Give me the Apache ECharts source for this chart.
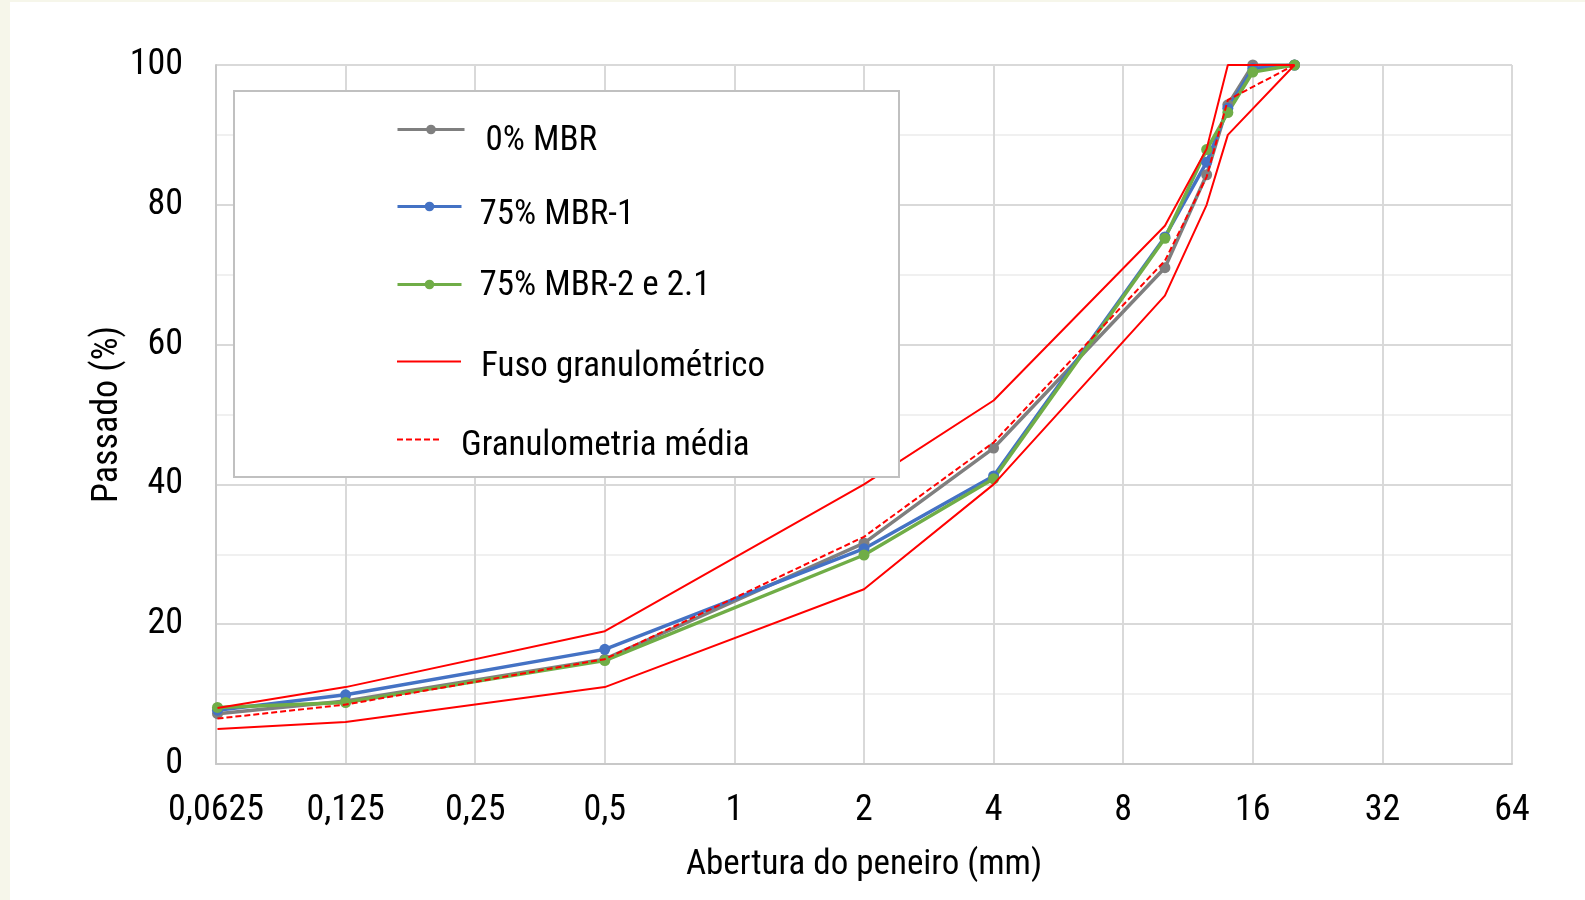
<!DOCTYPE html>
<html>
<head>
<meta charset="utf-8">
<title>Curvas granulométricas</title>
<script src="https://cdn.jsdelivr.net/npm/echarts@6/dist/echarts.min.js"></script>
<style>
  html, body { margin: 0; padding: 0; background: #f6f6ea; }
  #sheet { position: absolute; left: 10px; top: 2px; width: 1575px; height: 898px; background: #ffffff; }
  #chart { position: absolute; left: 0; top: 0; width: 1585px; height: 900px; }
</style>
</head>
<body>
<div id="sheet"></div>
<div id="chart"></div>
<script>
// Sieve openings (mm)
const sieves = [0.063, 0.125, 0.5, 2, 4, 10, 12.5, 14, 16, 20];

// Percentage passing for each mix
const mbr0   = [7.2, 9.0, 15.0, 31.6, 45.2, 71.0, 84.3, 94.3, 100, 100];
const mbr1   = [7.7, 9.9, 16.4, 30.8, 41.2, 75.4, 86.1, 93.8, 99.5, 100];
const mbr2   = [8.1, 8.8, 14.8, 29.9, 40.8, 75.2, 87.9, 93.2, 99.0, 100];

// Grading envelope limits and their mean (no limit defined at 16 mm for the lower bound)
const fusoMax = [8, 11, 19, 40, 52, 77, 88, 100, 100, 100];
const fusoMin = [5, 6, 11, 25, 40, 67, 80, 90, null, 100];
const media   = [6.5, 8.5, 15, 32.5, 46, 72, 84, 95, null, 100];

// Axis tick values
const xTicks = [0.0625, 0.125, 0.25, 0.5, 1, 2, 4, 8, 16, 32, 64];
const yTicks = [0, 20, 40, 60, 80, 100];

const FONT = "'Liberation Sans Narrow', 'Arial Narrow', 'Roboto Condensed', 'DejaVu Sans Condensed', sans-serif";

const pairs = (vals) => sieves.map((s, i) => [s, vals[i]]);

const chart = echarts.init(document.getElementById('chart'), null, { renderer: 'canvas' });

// One legend block per entry; pad = [top, bottom, left] padding of the label
function legendAt(name, top, width, pad, hideMarker, lineWidth) {
  const leg = {
    data: [name],
    left: 396,
    top: top,
    orient: 'vertical',
    itemWidth: width,
    itemHeight: 12,
    z: 20,
    padding: 0,
    selectedMode: false,
    lineStyle: { width: lineWidth },
    formatter: (n) => '{t|' + n + '}',
    textStyle: {
      fontFamily: FONT,
      fontSize: 35,
      color: '#000000',
      rich: {
        t: {
          fontFamily: FONT,
          fontSize: 35,
          color: '#000000',
          padding: [pad[0], 0, pad[1], pad[2]]
        }
      }
    }
  };
  if (hideMarker) leg.itemStyle = { opacity: 0 };
  return leg;
}

const dataLine = (name, color, vals) => ({
  name: name,
  type: 'line',
  data: pairs(vals),
  symbol: 'circle',
  symbolSize: 11,
  lineStyle: { color: color, width: 3.5 },
  itemStyle: { color: color },
  z: 3
});

const envelopeLine = (name, vals, dashed) => ({
  name: name,
  type: 'line',
  data: pairs(vals),
  showSymbol: false,
  symbol: 'none',
  connectNulls: true,
  lineStyle: { color: '#ff0000', width: 2, type: dashed ? [6, 3] : 'solid' },
  itemStyle: { color: '#ff0000' },
  z: 4
});

chart.setOption({
  animation: false,
  backgroundColor: 'transparent',
  grid: { left: 216, right: 73, top: 65, bottom: 136, containLabel: false },
  xAxis: {
    type: 'log',
    logBase: 2,
    min: xTicks[0],
    max: xTicks[xTicks.length - 1],
    interval: 1,
    splitNumber: 10,
    name: 'Abertura do peneiro (mm)',
    nameLocation: 'middle',
    nameGap: 84,
    nameTextStyle: { fontFamily: FONT, fontSize: 35, color: '#000000' },
    axisLine: { show: true, lineStyle: { color: '#c8c8c8', width: 2 } },
    axisTick: { show: false },
    axisLabel: {
      margin: 29,
      fontFamily: FONT,
      fontSize: 36,
      color: '#000000',
      formatter: (v) => String(Number(v.toPrecision(6))).replace('.', ',')
    },
    splitLine: { show: true, lineStyle: { color: '#d9d9d9', width: 2 } }
  },
  yAxis: {
    type: 'value',
    min: yTicks[0],
    max: yTicks[yTicks.length - 1],
    interval: 20,
    name: 'Passado (%)',
    nameLocation: 'middle',
    nameRotate: 90,
    nameGap: 90,
    nameMoveOverlap: false,
    nameTextStyle: { fontFamily: FONT, fontSize: 36, color: '#000000' },
    axisLine: { show: true, lineStyle: { color: '#c8c8c8', width: 2 } },
    axisTick: { show: false },
    axisLabel: { margin: 33, fontFamily: FONT, fontSize: 36, color: '#000000' },
    splitLine: { show: true, lineStyle: { color: '#d9d9d9', width: 2 } },
    minorTick: { show: false, splitNumber: 2 },
    minorSplitLine: { show: true, lineStyle: { color: '#f0f0f0', width: 2 } }
  },
  legend: [
    legendAt('0% MBR', 124, 67, [24, 0, 16], false, 3),
    legendAt('75% MBR-1', 198, 64, [18, 0, 13], false, 3),
    legendAt('75% MBR-2 e 2.1', 269, 64, [4, 0, 13], false, 3),
    legendAt('Fuso granulométrico', 350, 64, [12, 0, 15], true, 2),
    legendAt('Granulometria média', 429, 44, [14, 0, 15], true, 2)
  ],
  graphic: [{
    type: 'rect',
    z: 15,
    shape: { x: 234, y: 91, width: 665, height: 386 },
    style: { fill: '#ffffff', stroke: '#c0c0c0', lineWidth: 2 }
  }],
  series: [
    dataLine('0% MBR', '#7f7f7f', mbr0),
    dataLine('75% MBR-1', '#4472c4', mbr1),
    dataLine('75% MBR-2 e 2.1', '#70ad47', mbr2),
    envelopeLine('Fuso granulométrico', fusoMax, false),
    envelopeLine('Fuso granulométrico', fusoMin, false),
    envelopeLine('Granulometria média', media, true)
  ]
});
</script>
</body>
</html>
